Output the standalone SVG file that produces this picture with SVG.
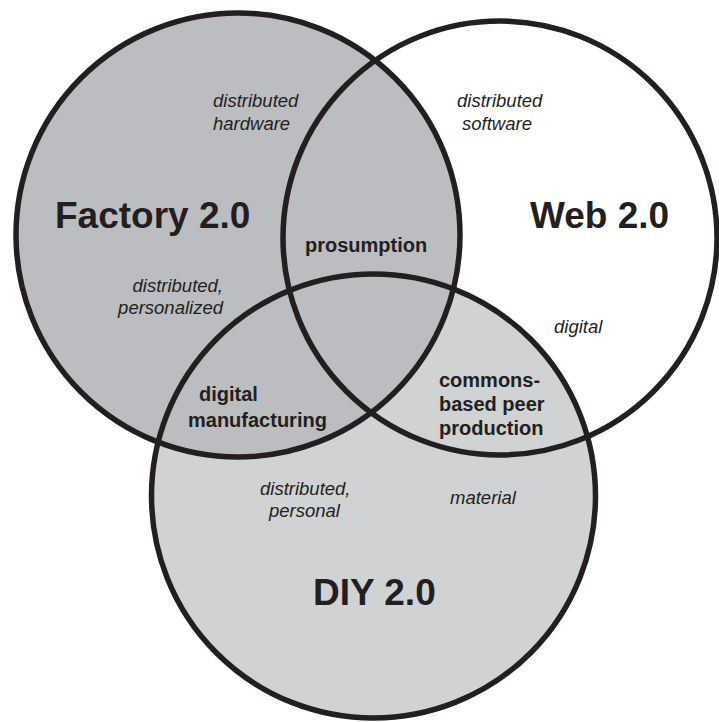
<svg xmlns="http://www.w3.org/2000/svg" width="719" height="722" viewBox="0 0 719 722">
  <style>
    .ring { fill: none; stroke: #231f20; stroke-width: 5.5; }
    .title { font-family: "Liberation Sans", Arial, sans-serif; font-weight: bold; font-size: 37px; fill: #231f20; }
    .bold { font-family: "Liberation Sans", Arial, sans-serif; font-weight: bold; font-size: 20px; fill: #231f20; }
    .it { font-family: "Liberation Sans", Arial, sans-serif; font-style: italic; font-size: 18.5px; fill: #231f20; }
  </style>
  <rect width="719" height="722" fill="#ffffff"/>
  <g id="fills">
    <circle id="web-fill" cx="500" cy="238" r="217" fill="#ffffff"/>
    <circle id="diy-fill" cx="373.5" cy="496" r="222" fill="#d1d2d4"/>
    <circle id="factory-fill" cx="238" cy="235" r="222" fill="#bcbdc0"/>
  </g>
  <g id="factory">
    <circle class="ring" cx="238" cy="235" r="222"/>
    <text class="title" x="55" y="228">Factory 2.0</text>
    <text class="it" x="213" y="107">distributed</text>
    <text class="it" x="213" y="130">hardware</text>
    <text class="it" x="223" y="292" text-anchor="end">distributed,</text>
    <text class="it" x="223" y="314" text-anchor="end">personalized</text>
  </g>
  <g id="web">
    <circle class="ring" cx="500" cy="238" r="217"/>
    <text class="title" x="530" y="228">Web 2.0</text>
    <text class="it" x="457" y="107">distributed</text>
    <text class="it" x="462" y="130">software</text>
    <text class="it" x="554" y="333">digital</text>
  </g>
  <g id="diy">
    <circle class="ring" cx="373.5" cy="496" r="222"/>
    <text class="title" x="313" y="605">DIY 2.0</text>
    <text class="it" x="260" y="495">distributed,</text>
    <text class="it" x="269" y="517">personal</text>
    <text class="it" x="450" y="504">material</text>
  </g>
  <g id="overlaps">
    <text class="bold" x="305" y="252">prosumption</text>
    <text class="bold" x="199" y="401">digital</text>
    <text class="bold" x="188" y="427">manufacturing</text>
    <text class="bold" x="439" y="387">commons-</text>
    <text class="bold" x="439" y="411">based peer</text>
    <text class="bold" x="439" y="435">production</text>
  </g>
  <g id="connectors"/>
</svg>
